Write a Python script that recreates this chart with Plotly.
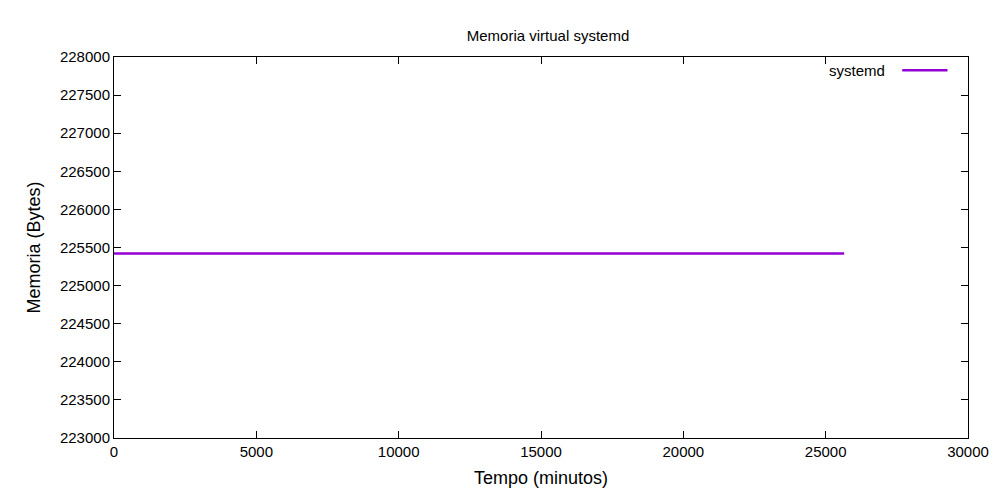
import plotly.graph_objects as go

tempo = [0, 5000, 10000, 15000, 20000, 25650]
memoria = [225420, 225420, 225420, 225420, 225420, 225420]
x_ticks = [0, 5000, 10000, 15000, 20000, 25000, 30000]
y_ticks = list(range(223000, 228001, 500))

fig = go.Figure()
fig.add_trace(go.Scatter(x=tempo, y=memoria, mode='lines', name='systemd',
                         line=dict(color='#9400D3', width=2.5), showlegend=False))

axis_style = dict(showline=True, linecolor='black', linewidth=1, mirror='ticks',
                  ticks='inside', ticklen=7, tickcolor='black', showgrid=False,
                  zeroline=False, tickfont=dict(size=15, color='black'))

# gnuplot-style key: label then line sample
fig.add_annotation(x=0.905, y=0.965, xref='paper', yref='paper', text='systemd',
                   showarrow=False, xanchor='right', yanchor='middle', font=dict(size=15))
fig.add_shape(type='line', xref='paper', yref='paper', x0=0.923, x1=0.976,
              y0=0.965, y1=0.965, line=dict(color='#9400D3', width=2.5))

fig.update_layout(
    width=1000, height=500,
    paper_bgcolor='white', plot_bgcolor='white',
    font=dict(family='Liberation Sans, Arial', size=15, color='black'),
    title=dict(text='Memoria virtual systemd', x=0.54, xanchor='center', y=0.955,
               font=dict(size=15)),
    margin=dict(l=106, r=40, t=49, b=70),
    xaxis=dict(range=[0, 30000], tickvals=x_ticks, ticktext=[str(v) for v in x_ticks],
               title=dict(text='Tempo (minutos)', standoff=12), **axis_style),
    yaxis=dict(range=[223000, 228000], tickvals=y_ticks, ticktext=[str(v) for v in y_ticks],
               title=dict(text='Memoria (Bytes)', standoff=14), **axis_style),
)

fig.write_html("out.html")
